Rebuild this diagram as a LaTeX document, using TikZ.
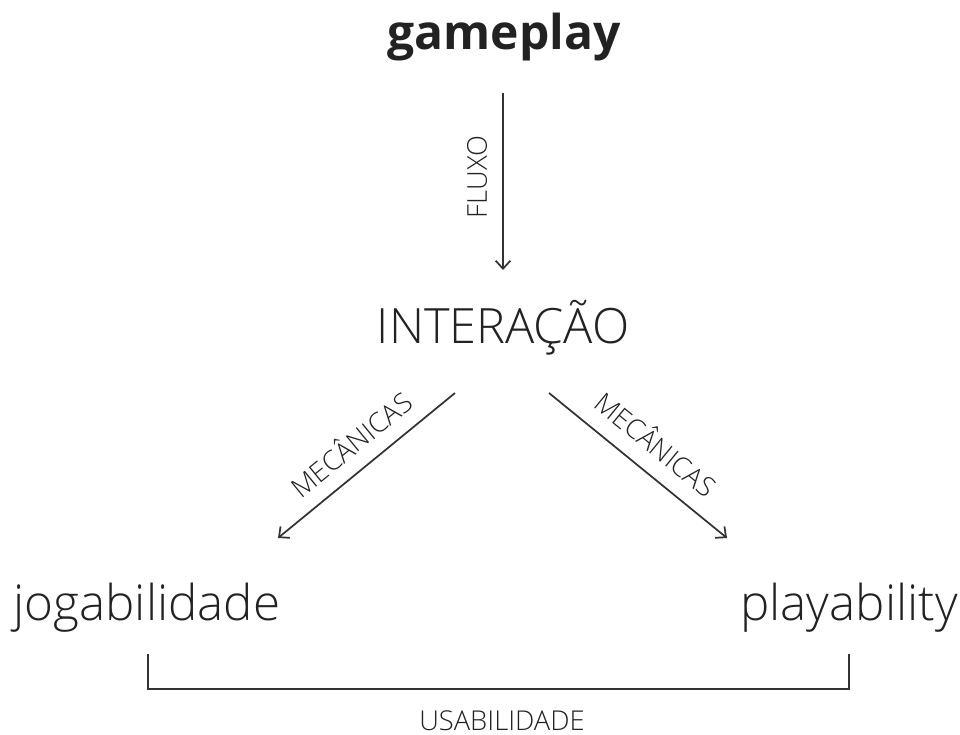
\documentclass[tikz,border=0pt]{standalone}
\usepackage{fontspec}
\setmainfont{Open Sans}[UprightFont={* Light}, BoldFont={* Bold}]
\usetikzlibrary{arrows.meta}
\definecolor{ink}{HTML}{222222}
\definecolor{wire}{HTML}{333333}
\tikzset{
  bigword/.style={anchor=base, inner sep=0pt, text=ink, font=\fontsize{37}{40}\selectfont},
  tagword/.style={inner sep=0pt, text=ink, font=\fontsize{20.5}{23}\selectfont},
  link/.style={draw=wire, line width=1.3pt, -{Straight Barb[length=6pt,width=11pt,line width=1.3pt]}},
  bracket/.style={draw=wire, line width=1.3pt}
}
\begin{document}
\begin{tikzpicture}[x=0.75pt, y=-0.75pt]
  \useasboundingbox (0,0) rectangle (960,735);

  % terms
  \node[bigword, font=\fontsize{36}{40}\selectfont\bfseries] (gameplay) at (504,50) {gameplay};
  \node[bigword, font=\fontsize{36.5}{40}\selectfont] (interacao) at (503,343) {INTERAÇÃO};
  \node[bigword] (jogab) at (147,620) {jogabilidade};
  \node[bigword] (playab) at (849,620) {playability};

  % arrow end points
  \coordinate (fluxoA) at (503,93);
  \coordinate (fluxoB) at (503,270);
  \coordinate (leftA) at (455,393);
  \coordinate (leftB) at (278,538);
  \coordinate (rightA) at (549,393);
  \coordinate (rightB) at (727,538);

  \draw[link] (fluxoA) -- (fluxoB);
  \draw[link] (leftA) -- (leftB);
  \draw[link] (rightA) -- (rightB);

  % arrow labels
  \node[tagword, rotate=90] (fluxo) at (477,177) {FLUXO};
  \node[tagword, rotate=39.3] (mecL) at (350,443) {MECÂNICAS};
  \node[tagword, rotate=-39.3] (mecR) at (657,443) {MECÂNICAS};

  % usability bracket
  \coordinate (brL) at (148,654);
  \coordinate (brR) at (849,654);
  \draw[bracket] (brL) |- (brR |- 0,689) -- (brR);
  \node[tagword, anchor=base] (usab) at (502,730) {USABILIDADE};
\end{tikzpicture}
\end{document}
